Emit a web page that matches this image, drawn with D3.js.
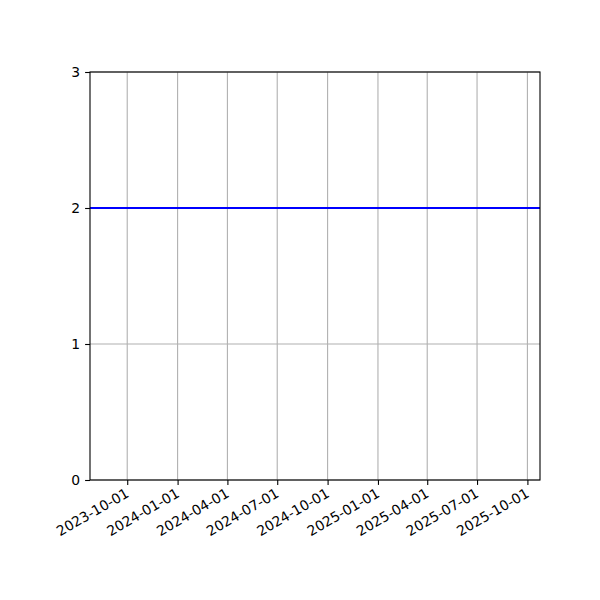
<!DOCTYPE html>
<html>
<head>
<meta charset="utf-8">
<script src="https://cdn.jsdelivr.net/npm/d3@7"></script>
<style>
  body { margin: 0; background: #fff; }
  text { font-family: "DejaVu Sans", sans-serif; }
</style>
</head>
<body>
<div class="chart"></div>
<script>
var dates = ['2023-07-25', '2025-10-24'];
var values = [2, 2];
var xTickLabels = ['2023-10-01', '2024-01-01', '2024-04-01', '2024-07-01', '2024-10-01',
                   '2025-01-01', '2025-04-01', '2025-07-01', '2025-10-01'];
var yTicks = [0, 1, 2, 3];

var parse = d3.utcParse('%Y-%m-%d');
var points = dates.map(function(d, i) { return { date: parse(d), value: values[i] }; });

var mLeft = 90, mRight = 540, mTop = 72, mBottom = 480;

var svg = d3.select('.chart')
    .append('svg')
    .attr('width', 600)
    .attr('height', 600);

var x = d3.scaleUtc()
    .domain(d3.extent(points, function(d) { return d.date; }))
    .range([mLeft, mRight]);

var y = d3.scaleLinear()
    .domain([0, 3])
    .range([mBottom, mTop]);

// grid
svg.append('g')
    .selectAll('line')
    .data(xTickLabels)
    .enter().append('line')
    .attr('x1', function(d) { return x(parse(d)); })
    .attr('x2', function(d) { return x(parse(d)); })
    .attr('y1', mTop)
    .attr('y2', mBottom)
    .attr('stroke', '#b0b0b0')
    .attr('stroke-width', 1.1);

svg.append('g')
    .selectAll('line')
    .data(yTicks)
    .enter().append('line')
    .attr('x1', mLeft)
    .attr('x2', mRight)
    .attr('y1', function(d) { return y(d); })
    .attr('y2', function(d) { return y(d); })
    .attr('stroke', '#b0b0b0')
    .attr('stroke-width', 1.1);

// line
var line = d3.line()
    .x(function(d) { return x(d.date); })
    .y(function(d) { return y(d.value); });

svg.append('path')
    .datum(points)
    .attr('d', line)
    .attr('fill', 'none')
    .attr('stroke', '#0000ff')
    .attr('stroke-width', 2);

// axes
var xAxis = d3.axisBottom(x)
    .tickValues(xTickLabels.map(parse))
    .tickFormat(d3.utcFormat('%Y-%m-%d'))
    .tickSize(4.9)
    .tickSizeOuter(0)
    .tickPadding(4.9);

var gx = svg.append('g')
    .attr('transform', 'translate(0,' + mBottom + ')')
    .call(xAxis);

gx.selectAll('text')
    .attr('font-size', 13.9)
    .attr('font-family', '"DejaVu Sans", sans-serif')
    .attr('fill', '#000')
    .style('text-anchor', 'end')
    .attr('dy', '0.75em')
    .attr('transform', 'translate(-3,7) rotate(-30)')
    .attr('y', 0)
    .attr('x', 0);

var yAxis = d3.axisLeft(y)
    .tickValues(yTicks)
    .tickFormat(d3.format('d'))
    .tickSize(4.9)
    .tickSizeOuter(0)
    .tickPadding(4.9);

var gy = svg.append('g')
    .attr('transform', 'translate(' + mLeft + ',0)')
    .call(yAxis);

gy.selectAll('text')
    .attr('font-size', 13.9)
    .attr('font-family', '"DejaVu Sans", sans-serif')
    .attr('fill', '#000');

[gx, gy].forEach(function(g) {
  g.select('.domain').remove();
  g.selectAll('.tick line').attr('stroke', '#000').attr('stroke-width', 1.1);
});

// spines
svg.append('rect')
    .attr('x', mLeft)
    .attr('y', mTop)
    .attr('width', mRight - mLeft)
    .attr('height', mBottom - mTop)
    .attr('fill', 'none')
    .attr('stroke', '#000')
    .attr('stroke-width', 1.1);
</script>
</body>
</html>
